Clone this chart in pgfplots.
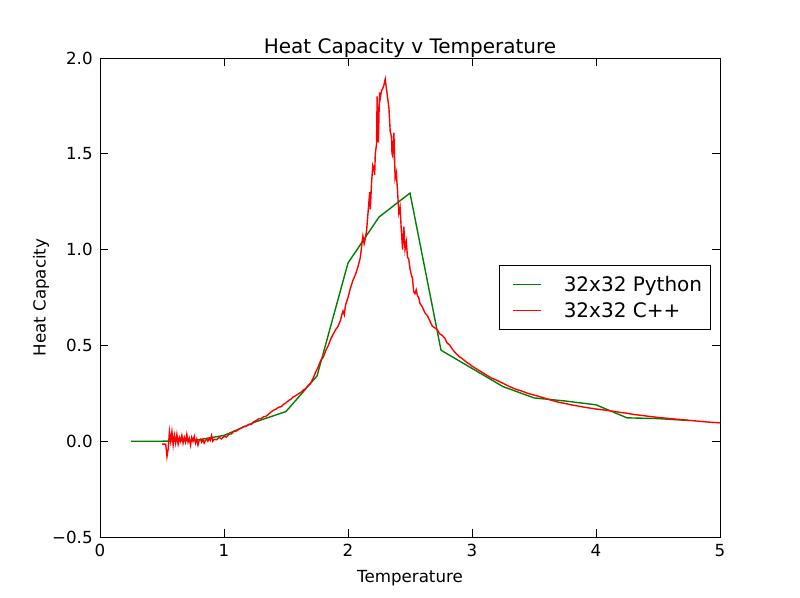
\documentclass[border=0pt]{standalone}
\usepackage{pgfplots}
\pgfplotsset{compat=1.18}
\usepackage{fontspec}
\setmainfont{DejaVu Sans}
\definecolor{mplgreen}{rgb}{0,0.5,0}
\begin{document}
\begin{tikzpicture}
\begin{axis}[
  scale only axis,
  width=465pt, height=359.25pt,
  xmin=0, xmax=5, ymin=-0.5, ymax=2.0,
  xtick={0,1,2,3,4,5},
  ytick={-0.5,0,0.5,1.0,1.5,2.0},
  yticklabels={−0.5,0.0,0.5,1.0,1.5,2.0},
  /pgf/number format/assume math mode=true,
  tick align=inside,
  tick pos=both,
  major tick length=6pt,
  minor tick num=0,
  tick style={black, line width=0.6pt},
  axis line style={line width=0.75pt},
  tick label style={font=\fontsize{12.5}{15}\selectfont},
  xticklabel style={yshift=-2pt},
  yticklabel style={xshift=-2pt},
  title={Heat Capacity v Temperature},
  title style={font=\fontsize{15}{18}\selectfont, yshift=-9.5pt},
  xlabel={Temperature},
  xlabel style={yshift=-3.5pt},
  ylabel={Heat Capacity},
  ylabel shift=-4.5pt,
  label style={font=\fontsize{12.5}{15}\selectfont},
  legend style={at={(rel axis cs:1,0.5)}, anchor=east, xshift=-7pt,
    draw=black, line width=0.75pt, font=\fontsize{15}{18}\selectfont,
    inner xsep=6pt, inner ysep=5.5pt, row sep=3pt,
    nodes={inner xsep=0pt, inner ysep=2pt},
    /tikz/column 1/.style={column sep=17pt}},
  legend cell align=left,
  legend image code/.code={\path (0pt,0pt); \draw[#1, line width=0.75pt] (3pt,0pt) -- (24pt,0pt);},
]
\addplot[mplgreen, line width=1.05pt] coordinates {
(0.25,0)(0.5,0)(0.75,0.003)(1.0,0.03)(1.25,0.1)(1.5,0.155)(1.75,0.34)(2.0,0.93)(2.25,1.17)(2.5,1.295)(2.75,0.475)(3.0,0.38)(3.25,0.285)(3.5,0.226)(3.75,0.21)(4.0,0.19)(4.25,0.122)(4.5,0.118)(4.75,0.108)
};
\addlegendentry{32x32 Python}
\addplot[red, line width=1.05pt] coordinates {
(0.50,-0.015)(0.52,-0.015)(0.53,-0.015)(0.54,-0.08)(0.55,-0.04)(0.56,0.05)(0.57,0.00)(0.58,0.05)(0.59,-0.02)(0.60,0.03)
(0.61,-0.01)(0.62,0.035)(0.63,-0.015)(0.64,0.02)(0.65,0.00)(0.66,0.03)(0.67,-0.01)(0.68,0.02)(0.69,-0.005)(0.70,0.035)
(0.71,-0.005)(0.72,0.015)(0.73,-0.02)(0.74,0.02)(0.75,0.00)(0.76,0.025)(0.77,-0.01)(0.78,0.01)(0.79,-0.02)(0.80,0.005)
(0.81,0.01)(0.82,-0.005)(0.83,0.01)(0.84,-0.01)(0.85,0.005)(0.86,0.01)(0.87,0.00)(0.88,0.015)(0.89,0.005)(0.90,0.03)
(0.91,0.0)(0.92,0.01)(0.94,0.008)(0.96,0.02)(0.98,0.012)(1.00,0.025)(1.02,0.022)(1.04,0.037)(1.06,0.038)(1.08,0.052)
(1.10,0.053)(1.12,0.063)(1.14,0.068)(1.16,0.077)(1.18,0.078)(1.20,0.088)(1.22,0.087)(1.24,0.102)(1.26,0.108)(1.28,0.117)
(1.30,0.118)(1.32,0.128)(1.34,0.13)(1.36,0.142)(1.38,0.153)(1.40,0.162)(1.42,0.168)(1.44,0.177)(1.46,0.18)(1.48,0.192)
(1.50,0.20)(1.52,0.212)(1.54,0.219)(1.56,0.232)(1.58,0.238)(1.60,0.247)(1.62,0.255)(1.64,0.267)(1.66,0.275)(1.68,0.292)
(1.70,0.305)(1.72,0.33)(1.74,0.362)(1.76,0.388)(1.78,0.422)(1.80,0.438)(1.82,0.472)(1.84,0.498)(1.86,0.532)(1.88,0.558)
(1.90,0.582)(1.92,0.60)(1.94,0.632)(1.95,0.66)(1.96,0.68)(1.97,0.66)(1.98,0.71)(2.00,0.75)(2.02,0.80)(2.04,0.84)
(2.06,0.87)(2.08,0.91)(2.10,0.96)(2.11,1.02)(2.12,1.07)(2.13,1.03)(2.14,1.06)(2.15,1.10)(2.16,1.18)(2.17,1.26)
(2.175,1.30)(2.18,1.21)(2.19,1.35)(2.20,1.44)(2.21,1.42)(2.215,1.39)(2.22,1.50)(2.23,1.55)(2.235,1.80)(2.24,1.64)
(2.245,1.56)(2.25,1.71)(2.255,1.82)(2.26,1.79)(2.27,1.83)(2.28,1.84)(2.29,1.86)(2.30,1.89)(2.31,1.84)(2.32,1.79)
(2.33,1.74)(2.34,1.62)(2.35,1.59)(2.355,1.50)(2.36,1.49)(2.37,1.61)(2.38,1.37)(2.39,1.40)(2.40,1.30)(2.41,1.19)
(2.42,1.22)(2.43,1.10)(2.44,1.00)(2.45,1.12)(2.46,1.00)(2.47,1.04)(2.48,0.96)(2.49,0.95)(2.50,0.90)(2.51,0.87)
(2.52,0.85)(2.53,0.78)(2.54,0.77)(2.55,0.79)(2.56,0.76)(2.57,0.75)(2.58,0.72)(2.60,0.70)(2.62,0.67)(2.64,0.655)
(2.66,0.628)(2.68,0.60)(2.70,0.592)(2.72,0.582)(2.74,0.56)(2.76,0.552)(2.78,0.538)(2.80,0.512)(2.82,0.502)(2.84,0.482)
(2.86,0.465)(2.88,0.452)(2.90,0.44)(2.92,0.432)(2.95,0.415)(2.98,0.402)(3.00,0.392)(3.05,0.372)(3.10,0.352)(3.15,0.332)
(3.20,0.318)(3.25,0.302)(3.30,0.286)(3.35,0.272)(3.40,0.262)(3.45,0.25)(3.50,0.241)(3.55,0.232)(3.60,0.222)(3.65,0.212)
(3.70,0.203)(3.75,0.197)(3.80,0.19)(3.85,0.184)(3.90,0.178)(3.95,0.173)(4.00,0.168)(4.05,0.164)(4.10,0.16)(4.15,0.155)
(4.20,0.15)(4.25,0.146)(4.30,0.14)(4.35,0.136)(4.40,0.132)(4.45,0.128)(4.50,0.124)(4.55,0.121)(4.60,0.118)(4.65,0.115)
(4.70,0.112)(4.75,0.109)(4.80,0.106)(4.85,0.103)(4.90,0.10)(4.95,0.098)(5.00,0.096)
};
\addlegendentry{32x32 C++}
\end{axis}
\pgfresetboundingbox
\path (current axis.south west) ++(-75pt,-45pt) coordinate (bbsw);
\path (current axis.north east) ++(60pt,43.5pt) coordinate (bbne);
\useasboundingbox (bbsw) rectangle (bbne);
\end{tikzpicture}
\end{document}
